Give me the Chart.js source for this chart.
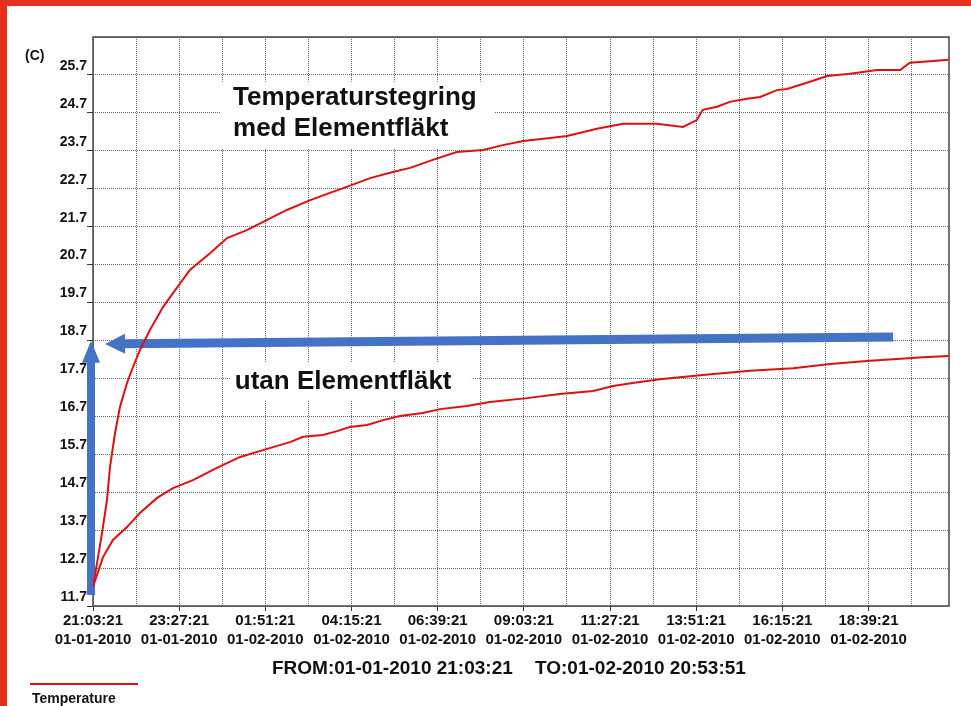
<!DOCTYPE html>
<html>
<head>
<meta charset="utf-8">
<title>Temperaturstegring</title>
<script src="https://cdn.jsdelivr.net/npm/chart.js@4.4.1/dist/chart.umd.min.js"></script>
<style>
  body { margin: 0; background: #fff; overflow: hidden; }
  #wrap { position: relative; width: 971px; height: 706px; }
  #myChart { position: absolute; left: 0; top: 0; }
  .rand { position: absolute; background: #e3301f; z-index: 2; }
</style>
</head>
<body>
<div id="wrap">
  <canvas id="myChart" width="971" height="706"></canvas>
  <div class="rand" style="left:0;top:0;width:7px;height:706px"></div>
  <div class="rand" style="left:0;top:0;width:971px;height:6px"></div>
</div>
<script>
// DATOS: minutos desde 01-01-2010 21:03:21 y temperatura (C)
const upperTime = [0, 6.7, 15, 23.4, 28.4, 36.8, 45.1, 56.8, 66.8, 78.5, 95.3, 117, 133.7, 162, 195.5, 224, 257, 291, 324, 363, 396, 424, 463, 501, 530, 568, 608, 652, 685, 719, 764, 792, 842, 886, 942, 986, 1009, 1019, 1043, 1064, 1093, 1115, 1143, 1160, 1198, 1227, 1265, 1310, 1349, 1365, 1404, 1430];
const upperTemp = [12.2, 12.83, 13.62, 14.49, 15.36, 16.26, 16.95, 17.58, 18.0, 18.45, 18.98, 19.58, 19.95, 20.56, 21.0, 21.4, 21.61, 21.88, 22.14, 22.4, 22.59, 22.75, 22.98, 23.14, 23.25, 23.46, 23.67, 23.72, 23.85, 23.96, 24.04, 24.09, 24.28, 24.41, 24.41, 24.33, 24.51, 24.78, 24.86, 24.99, 25.07, 25.12, 25.3, 25.33, 25.52, 25.67, 25.73, 25.83, 25.83, 26.02, 26.07, 26.1];

const lowerTime = [0, 16.7, 33.4, 56.8, 78.5, 107, 133.7, 167, 207, 246, 284, 329, 351, 384, 408, 429, 458, 485, 513, 551, 580, 625, 663, 725, 780, 836, 869, 902, 947, 1019, 1098, 1170, 1232, 1293, 1387, 1430];
const lowerTemp = [12.2, 12.99, 13.44, 13.78, 14.15, 14.55, 14.81, 15.02, 15.34, 15.63, 15.81, 16.02, 16.16, 16.21, 16.31, 16.42, 16.47, 16.6, 16.71, 16.79, 16.89, 16.97, 17.08, 17.18, 17.29, 17.37, 17.5, 17.58, 17.68, 17.79, 17.9, 17.97, 18.08, 18.16, 18.26, 18.29];

// ETIQUETAS DE LOS EJES
const yTickLabels = ['11.7', '12.7', '13.7', '14.7', '15.7', '16.7', '17.7', '18.7', '19.7', '20.7', '21.7', '22.7', '23.7', '24.7', '25.7'];
const yTop = 26.7;
const xTickLabels = [
    ['21:03:21', '01-01-2010'], ['23:27:21', '01-01-2010'], ['01:51:21', '01-02-2010'],
    ['04:15:21', '01-02-2010'], ['06:39:21', '01-02-2010'], ['09:03:21', '01-02-2010'],
    ['11:27:21', '01-02-2010'], ['13:51:21', '01-02-2010'], ['16:15:21', '01-02-2010'],
    ['18:39:21', '01-02-2010']
];
const xGridStep = 72;    // minutos entre lineas verticales
const xEnd = 1430.5;     // 20:53:51 del dia siguiente
const rangeText = ['FROM:01-01-2010 21:03:21', 'TO:01-02-2010 20:53:51'];

// TEXTOS Y FLECHAS (coordenadas de datos)
const notes = [
    { lines: ['Temperaturstegring', 'med Elementfläkt'], x: 234, y: [25.09, 24.27], box: [214, 670, 25.52, 23.77] },
    { lines: ['utan Elementfläkt'], x: 237, y: [17.61], box: [229, 633, 18.13, 17.13] }
];
const arrows = [
    { from: [-3.3, 11.99], to: [-3.3, 18.69], width: 8, head: 22, half: 9 },
    { from: [1337, 18.79], to: [20.1, 18.61], width: 9, head: 20, half: 10 }
];

const FONT = "'Liberation Sans', Arial, sans-serif";
const RED = '#dd1111';
const BLUE = '#4472c4';

const yTickValues = yTickLabels.map(Number).concat([yTop]);
const xGridValues = [];
for (let t = 0; t < xEnd; t += xGridStep) xGridValues.push(t);

function drawArrow(ctx, x1, y1, x2, y2, a) {
    const len = Math.hypot(x2 - x1, y2 - y1);
    const ux = (x2 - x1) / len, uy = (y2 - y1) / len;
    const bx = x2 - ux * a.head, by = y2 - uy * a.head;
    ctx.strokeStyle = BLUE;
    ctx.fillStyle = BLUE;
    ctx.lineWidth = a.width;
    ctx.lineCap = 'butt';
    ctx.beginPath();
    ctx.moveTo(x1, y1);
    ctx.lineTo(bx + ux, by + uy);
    ctx.stroke();
    ctx.beginPath();
    ctx.moveTo(x2, y2);
    ctx.lineTo(bx - uy * a.half, by + ux * a.half);
    ctx.lineTo(bx + uy * a.half, by - ux * a.half);
    ctx.closePath();
    ctx.fill();
}

// PLUGIN: marco, textos y flechas
const extras = {
    id: 'extras',
    beforeDatasetsDraw(chart) {
        const ctx = chart.ctx, xs = chart.scales.x, ys = chart.scales.y, area = chart.chartArea;
        ctx.save();
        notes.forEach(n => {
            const l = xs.getPixelForValue(n.box[0]), r = xs.getPixelForValue(n.box[1]);
            const t = ys.getPixelForValue(n.box[2]), b = ys.getPixelForValue(n.box[3]);
            ctx.fillStyle = '#fff';
            ctx.fillRect(l, t, r - l, b - t);
            ctx.fillStyle = '#111';
            ctx.font = 'bold 26px ' + FONT;
            ctx.textAlign = 'left';
            ctx.textBaseline = 'middle';
            n.lines.forEach((s, i) => ctx.fillText(s, xs.getPixelForValue(n.x), ys.getPixelForValue(n.y[i])));
        });
        ctx.strokeStyle = '#444';
        ctx.lineWidth = 1.5;
        ctx.strokeRect(area.left, area.top, area.right - area.left, area.bottom - area.top);
        arrows.forEach(a => drawArrow(ctx,
            xs.getPixelForValue(a.from[0]), ys.getPixelForValue(a.from[1]),
            xs.getPixelForValue(a.to[0]), ys.getPixelForValue(a.to[1]), a));
        ctx.restore();
    },
    afterDraw(chart) {
        const ctx = chart.ctx, area = chart.chartArea;
        ctx.save();
        ctx.fillStyle = '#111';
        ctx.textBaseline = 'alphabetic';
        ctx.textAlign = 'left';
        ctx.font = 'bold 14px ' + FONT;
        ctx.fillText('(C)', 25, 60);
        ctx.font = 'bold 19px ' + FONT;
        ctx.fillText(rangeText[0], 272, area.bottom + 68);
        ctx.fillText(rangeText[1], 535, area.bottom + 68);
        // leyenda
        ctx.strokeStyle = RED;
        ctx.lineWidth = 2;
        ctx.beginPath();
        ctx.moveTo(30, 684);
        ctx.lineTo(138, 684);
        ctx.stroke();
        ctx.font = 'bold 14px ' + FONT;
        ctx.fillText(chart.data.datasets[0].label, 32, 703);
        ctx.restore();
    }
};

var ctx = document.getElementById('myChart').getContext('2d');
window.myChart = new Chart(ctx, {
    type: 'line',
    data: {
        datasets: [{
            label: 'Temperature',
            data: upperTime.map((t, i) => ({ x: t, y: upperTemp[i] })),
            borderColor: RED,
            borderWidth: 2,
            pointRadius: 0,
            tension: 0,
            fill: false
        }, {
            label: 'Temperature',
            data: lowerTime.map((t, i) => ({ x: t, y: lowerTemp[i] })),
            borderColor: RED,
            borderWidth: 2,
            pointRadius: 0,
            tension: 0,
            fill: false
        }]
    },
    options: {
        responsive: false,
        animation: false,
        layout: { padding: { left: 0, top: 37, right: 22, bottom: 0 } },
        plugins: {
            legend: { display: false },
            tooltip: { enabled: false }
        },
        scales: {
            x: {
                type: 'linear',
                min: 0,
                max: xEnd,
                afterBuildTicks: s => { s.ticks = xGridValues.map(v => ({ value: v })); },
                afterFit: s => { s.height = 100; },
                ticks: {
                    autoSkip: false,
                    maxRotation: 0,
                    minRotation: 0,
                    padding: 0,
                    color: '#111',
                    font: { family: FONT, size: 15, weight: 'bold', lineHeight: 1.27 },
                    callback: (v, i) => (i % 2 === 0 && xTickLabels[i / 2]) ? xTickLabels[i / 2] : ''
                },
                grid: {
                    color: '#666',
                    lineWidth: 1,
                    tickLength: 5,
                    tickColor: c => c.index % 2 === 0 ? '#333' : 'rgba(0,0,0,0)'
                },
                border: { display: false, dash: [1, 1] }
            },
            y: {
                type: 'linear',
                min: 11.7,
                max: yTop,
                afterBuildTicks: s => { s.ticks = yTickValues.map(v => ({ value: v })); },
                afterFit: s => { s.width = 93; },
                ticks: {
                    autoSkip: false,
                    padding: 0,
                    labelOffset: -9,
                    color: '#111',
                    font: { family: FONT, size: 14, weight: 'bold' },
                    callback: (v, i) => yTickLabels[i] || ''
                },
                grid: {
                    color: '#666',
                    lineWidth: 1,
                    tickLength: 6,
                    tickColor: c => (c.tick && c.tick.value === yTop) ? 'rgba(0,0,0,0)' : '#333'
                },
                border: { display: false, dash: [1, 1] }
            }
        }
    },
    plugins: [extras]
});
</script>
</body>
</html>
